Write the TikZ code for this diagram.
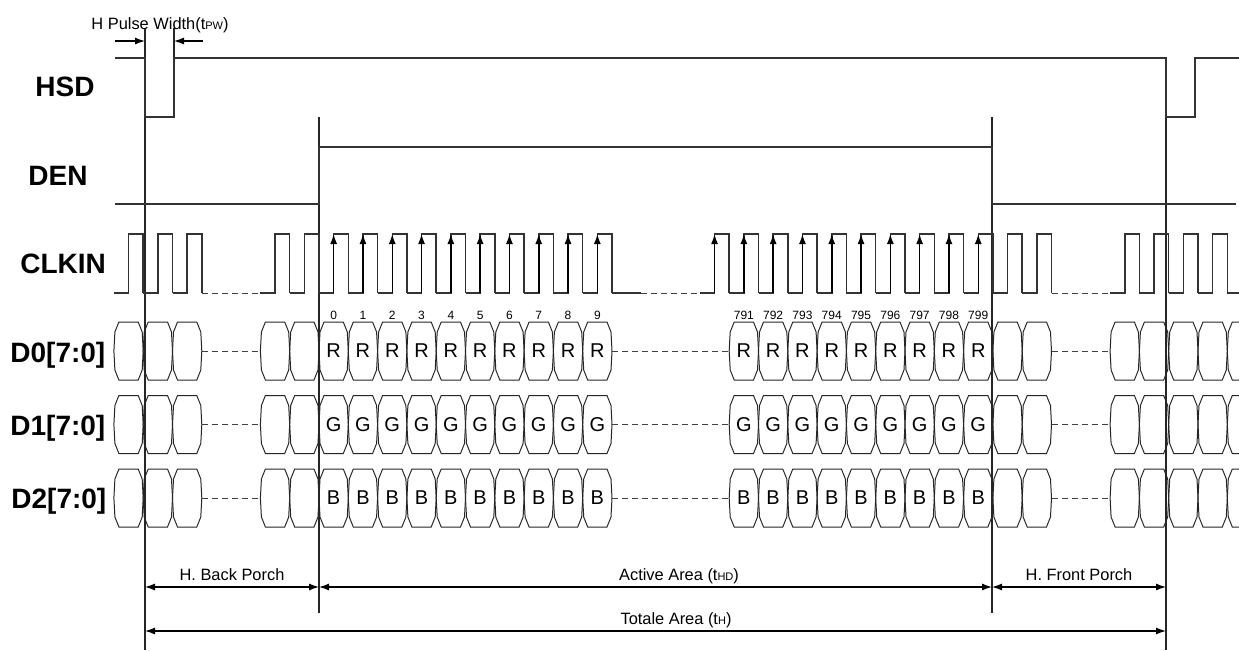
\documentclass[tikz,border=0pt]{standalone}
\usepackage{fontspec}
\setmainfont{Liberation Sans}
\usetikzlibrary{arrows.meta}

\begin{document}
\begin{tikzpicture}[x=0.5pt, y=-0.5pt]
	% Define styles
	\tikzset{
		sig/.style={draw=black!80, line width=0.75pt},
		bus/.style={draw=black!85, line width=0.5pt},
		gap/.style={draw=black!75, line width=0.5pt, densely dashed},
		marker/.style={draw=black!85, line width=0.7pt},
		signame/.style={anchor=base west, inner sep=0pt, font=\fontsize{14}{16}\selectfont\bfseries},
		cellfont/.style={inner sep=0pt, font=\fontsize{10}{12}\selectfont},
		idxfont/.style={inner sep=0pt, font=\fontsize{6}{7}\selectfont},
		dimfont/.style={anchor=base, inner sep=0pt, font=\fontsize{8.2}{10}\selectfont},
		dim/.style={line width=0.6pt, {Latex[length=5pt,width=3.5pt]}-{Latex[length=5pt,width=3.5pt]}},
		tip/.style={line width=0.6pt, -{Latex[length=5pt,width=3.5pt]}},
		rise/.style={line width=0.75pt, -{Latex[length=5pt,width=3.5pt]}}
	}
	
	\useasboundingbox (0,0) rectangle (1239,650);
	\fill[white] (0,0) rectangle (1239,650);
	\clip (0,0) rectangle (1239,650);
	
	% Clock period and first active edge
	\def\p{29.3}
	\def\xo{319}
	\def\lowcap#1{{\fontsize{5.5}{6}\selectfont #1}}
	
	% Macro to draw one bus cell
	\def\buscell#1#2{
		\draw[bus] (#1,#2) -- ++(1,-19) -- ++(4,-10) -- ++(\p-10,0) -- ++(4,10) -- ++(1,19)
			-- ++(-1,19) -- ++(-4,10) -- ++(10-\p,0) -- ++(-4,-10) -- cycle;
	}
	
	% Macro to draw one clock cycle
	\def\clk#1{
		\draw[sig] (#1,293) -- ++(\p/2,0) -- ++(0,-59) -- ++(\p/2,0) -- ++(0,59);
	}
	
	% Markers
	\coordinate (mA) at (145,0);
	\coordinate (mP) at (174,0);
	\coordinate (mB) at (319,0);
	\coordinate (mC) at (992,0);
	\coordinate (mD) at (1166,0);
	\draw[marker] (145,28) -- (145,650);
	\draw[marker] (174,28) -- (174,117);
	\draw[marker] (319,117) -- (319,613);
	\draw[marker] (992,117) -- (992,613);
	\draw[marker] (1166,58) -- (1166,650);
	
	% HSD
	\node[signame] (hsd) at (35,96) {HSD};
	\draw[sig] (115,58) -- (145,58) -- (145,117) -- (174,117) -- (174,58) -- (1166,58)
		-- (1166,117) -- (1195,117) -- (1195,58) -- (1239,58);
	
	% DEN
	\node[signame] (den) at (28,185) {DEN};
	\draw[sig] (115,204) -- (319,204) -- (319,147) -- (992,147) -- (992,204) -- (1236,204);
	
	% CLKIN
	\node[signame] (clkin) at (20,273) {CLKIN};
	\foreach \n in {-7,-6,-5,-2,-1,23,24,27,28,29,30} {
		\pgfmathsetmacro\bx{\xo+\p*\n}
		\clk{\bx}
	}
	\foreach \n in {0,...,9} {
		\pgfmathsetmacro\bx{\xo+\p*\n}
		\clk{\bx}
		\draw[rise] (\bx+\p/2,293) -- (\bx+\p/2,234);
	}
	\foreach \n in {13,...,22} {
		\pgfmathsetmacro\bx{\xo+\p*\n}
		\clk{\bx}
		\draw[rise] (\bx+\p/2,293) -- (\bx+\p/2,234);
	}
	\draw[gap] (\xo-4*\p,293) -- (\xo-2*\p,293);
	\draw[sig] (\xo+10*\p,293) -- (\xo+11*\p,293);
	\draw[gap] (\xo+11*\p,293) -- (\xo+13*\p,293);
	\draw[gap] (\xo+25*\p,293) -- (\xo+27*\p,293);
	\draw[sig] (\xo+31*\p,293) -- (1239,293);
	
	% Data buses
	\node[signame] (d0) at (10,362) {D0[7:0]};
	\node[signame] (d1) at (10,435) {D1[7:0]};
	\node[signame] (d2) at (11,508) {D2[7:0]};
	\foreach \m/\ch in {351/R, 424.5/G, 498/B} {
		\foreach \n in {-7,-6,-5,-2,-1,23,24,27,28,29,30,31} {
			\pgfmathsetmacro\bx{\xo+\p*\n}
			\buscell{\bx}{\m}
		}
		\foreach \n in {0,...,9,14,15,...,22} {
			\pgfmathsetmacro\bx{\xo+\p*\n}
			\buscell{\bx}{\m}
			\node[cellfont] (\ch-\n) at (\bx+\p/2,\m) {\ch};
		}
		\draw[gap] (\xo-4*\p,\m) -- (\xo-2*\p,\m);
		\draw[gap] (\xo+10*\p,\m) -- (\xo+14*\p,\m);
		\draw[gap] (\xo+25*\p,\m) -- (\xo+27*\p,\m);
	}
	
	% Pixel numbers
	\foreach \n in {0,...,9}
		\node[idxfont] (px-\n) at (\xo+\p*\n+\p/2,315) {\n};
	\foreach \k in {791,...,799} {
		\pgfmathtruncatemacro\n{\k-777}
		\node[idxfont] (px-\k) at (\xo+\p*\n+\p/2,315) {\k};
	}
	
	% Pulse width
	\coordinate (pwl) at (115,41);
	\coordinate (pwr) at (203,41);
	\node[dimfont] (pwtxt) at (160,29) {H Pulse Width(t\lowcap{PW})};
	\draw[tip] (pwl) -- (mA |- pwl);
	\draw[tip] (pwr) -- (mP |- pwr);
	
	% Horizontal timing
	\coordinate (row1) at (0,587);
	\coordinate (row2) at (0,631);
	\node[dimfont] (bp) at (232,580) {H. Back Porch};
	\node[dimfont] (aa) at (679,580) {Active Area (t\lowcap{HD})};
	\node[dimfont] (fp) at (1079,580) {H. Front Porch};
	\node[dimfont] (th) at (676,624) {Totale Area (t\lowcap{H})};
	\draw[dim] (mA |- row1) -- (mB |- row1);
	\draw[dim] (mB |- row1) -- (mC |- row1);
	\draw[dim] (mC |- row1) -- (mD |- row1);
	\draw[dim] (mA |- row2) -- (mD |- row2);
\end{tikzpicture}
\end{document}
